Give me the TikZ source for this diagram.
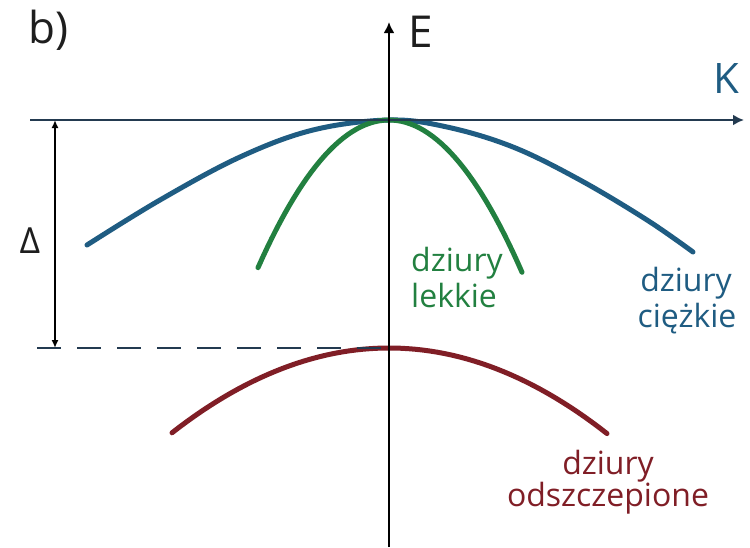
\documentclass[tikz,border=0pt]{standalone}
\usepackage{fontspec}
\setmainfont{Open Sans}
\usetikzlibrary{arrows.meta}
\definecolor{hhblue}{RGB}{31,92,130}
\definecolor{lhgreen}{RGB}{34,128,64}
\definecolor{sored}{RGB}{128,30,38}
\definecolor{axisblue}{RGB}{35,58,80}
\definecolor{txtgray}{RGB}{30,30,30}
\begin{document}
\begin{tikzpicture}[x=1pt,y=-1pt,
  band/.style={line width=5pt},
  axisline/.style={line width=2.5pt},
  lbl/.style={inner sep=0pt, font=\fontsize{32}{37}\selectfont},
  biglbl/.style={inner sep=0pt, font=\fontsize{44}{50}\selectfont, text=txtgray},
  tipbig/.style={-{Latex[length=11pt,width=11pt]}},
  tipsmall/.style={{Latex[length=8pt,width=7pt]}-{Latex[length=8pt,width=7pt]}}
]
\useasboundingbox (0,0) rectangle (750,547);
\fill[white] (0,0) rectangle (750,547);

% bands
\draw[band, hhblue, line cap=round] plot[smooth, tension=0.6] coordinates
  {(87,245) (160,200) (240,157) (313,130) (389,120) (447,127) (513,147) (580,180) (647,220) (693,252)};
\draw[band, lhgreen, line cap=round] plot[domain=258:522, samples=60] (\x,{120+0.0086*(\x-389)*(\x-389)});
\draw[band, sored, line cap=round] plot[domain=172:607, samples=60] (\x,{348+0.0018*(\x-389)*(\x-389)});

% named points
\coordinate (Ebot) at (389,547);
\coordinate (Etop) at (389,22);
\coordinate (Kleft) at (30,120);
\coordinate (Kright) at (744,120);
\coordinate (Dtop) at (55,120);
\coordinate (Dbot) at (55,348);
\coordinate (dashL) at (37,348);
\coordinate (dashR) at (389,348);

% dashed level
\draw[axisline, axisblue, dash pattern=on 24pt off 16pt] (dashL) -- (dashR);
% axes
\draw[axisline, axisblue, tipbig] (Kleft) -- (Kright);
\draw[axisline, black, tipbig] (Ebot) -- (Etop);
% Delta arrow
\draw[line width=2pt, black, tipsmall] (Dtop) -- (Dbot);

% labels
\node[biglbl, anchor=base west] (b) at (28,43) {b)};
\node[biglbl, anchor=base] (E) at (421,47) {E};
\node[biglbl, anchor=base, text=hhblue, font=\fontsize{42}{48}\selectfont] (K) at (726,93) {K};
\node[biglbl, anchor=base, font=\fontsize{36}{42}\selectfont] (D) at (30,253) {Δ};

\node[lbl, anchor=base west, text=lhgreen] (lh1) at (411,271) {dziury};
\node[lbl, anchor=base west, text=lhgreen] (lh2) at (411,307) {lekkie};
\node[lbl, anchor=base, text=hhblue] (hh1) at (686,291) {dziury};
\node[lbl, anchor=base, text=hhblue] (hh2) at (687,327) {ciężkie};
\node[lbl, anchor=base, text=sored] (so1) at (608,474) {dziury};
\node[lbl, anchor=base, text=sored] (so2) at (608,506) {odszczepione};
\end{tikzpicture}
\end{document}
